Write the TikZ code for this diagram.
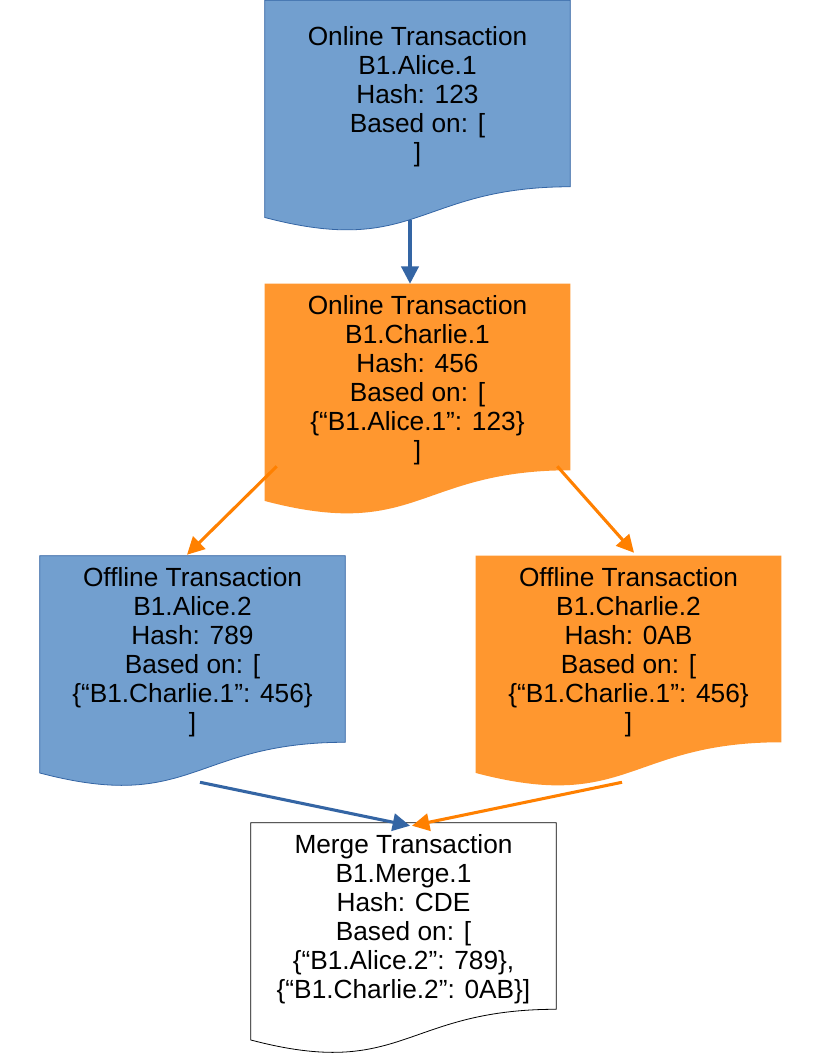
\documentclass[tikz,border=0pt]{standalone}
\usepackage{fontspec}
\setmainfont{Liberation Sans}
\usetikzlibrary{calc,arrows.meta}
\pgfdeclarelayer{background}
\pgfsetlayers{background,main}
\definecolor{bfill}{HTML}{729FCF}
\definecolor{bline}{HTML}{3465A4}
\definecolor{ofill}{HTML}{FF972F}
\definecolor{oline}{HTML}{FF8000}
\newcommand{\docpath}[2]{%
  \path[#2] ($(#1.north west)+(0,-3)$) -- ($(#1.north east)+(0,-3)$) -- ($(#1.south east)+(0,-3)$)
    .. controls ($(#1.south)+(0,-3)$) and ($(#1.south)+(0,68)$) .. ($(#1.south west)+(0,27.7)$) -- cycle;}
\tikzset{
  doctext/.style={minimum width=228.75pt, minimum height=139.5pt, inner sep=0pt,
    align=center, font=\fontsize{19.7pt}{21.75pt}\selectfont, text=black},
  bluedoc/.style={fill=bfill, draw=bline, line width=0.6pt},
  orangedoc/.style={fill=ofill},
  whitedoc/.style={fill=white, draw=black, line width=0.6pt},
  bluearr/.style={draw=bline, line width=2.3pt, -{Triangle[length=13pt,width=13pt]}},
  orangearr/.style={draw=oline, line width=2.3pt, -{Triangle[length=13pt,width=13pt]}}
}
\begin{document}
\begin{tikzpicture}[x=0.75pt, y=-0.75pt]
\useasboundingbox (0,0) rectangle (816,1056);
% nodes (text centred 3px below the text area centre)
\path (417.5,96.5) node[doctext] (b1) {Online Transaction\\B1.Alice.1\\Hash: 123\\Based on: [\\]};
\path (417.5,380) node[doctext] (b2) {Online Transaction\\B1.Charlie.1\\Hash: 456\\Based on: [\\\{“B1.Alice.1”: 123\}\\]};
\path (192.5,652) node[doctext] (b3) {Offline Transaction\\B1.Alice.2\\Hash: 789\\Based on: [\\\{“B1.Charlie.1”: 456\}\\]};
\path (628.5,652) node[doctext] (b4) {Offline Transaction\\B1.Charlie.2\\Hash: 0AB\\Based on: [\\\{“B1.Charlie.1”: 456\}\\]};
\path (403.5,919) node[doctext] (b5) {Merge Transaction\\B1.Merge.1\\Hash: CDE\\Based on: [\\\{“B1.Alice.2”: 789\},\\\{“B1.Charlie.2”: 0AB\}]};
% background and document shapes behind the text
\begin{pgfonlayer}{background}
\fill[white] (0,0) rectangle (816,1056);
\docpath{b1}{bluedoc}
\docpath{b2}{orangedoc}
\docpath{b3}{bluedoc}
\docpath{b4}{orangedoc}
\docpath{b5}{whitedoc}
\end{pgfonlayer}
% connectors
\draw[bluearr] ($(b1.south)+(-7.5,30)$) -- ($(b2.north)+(-7.5,-3)$);
\draw[orangearr] ($(b2.south west)+(12,-7)$) -- ($(b3.north)+(-5.5,-4)$);
\draw[orangearr] ($(b2.south east)+(-13,-7)$) -- ($(b4.north)+(5.5,-6)$);
\draw[bluearr] ($(b3.south)+(7.5,37)$) -- ($(b5.north)+(6.5,0)$);
\draw[orangearr] ($(b4.south)+(-6.5,37)$) -- ($(b5.north)+(8.5,0)$);
\end{tikzpicture}
\end{document}
